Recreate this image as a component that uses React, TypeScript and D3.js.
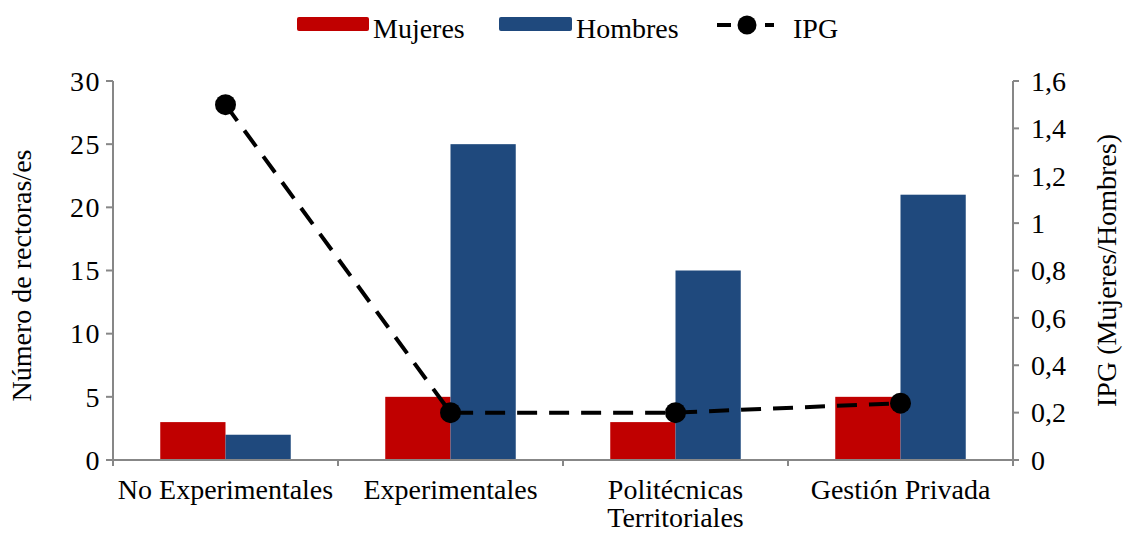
import React from 'react';
import * as d3 from 'd3';

const categories = ['No Experimentales', 'Experimentales', 'Politécnicas Territoriales', 'Gestión Privada'];
const categoryLines = [['No Experimentales'], ['Experimentales'], ['Politécnicas', 'Territoriales'], ['Gestión Privada']];
const mujeres = [3, 5, 3, 5];
const hombres = [2, 25, 15, 21];
const ipg = [1.5, 0.2, 0.2, 0.24];
const leftTicks = [0, 5, 10, 15, 20, 25, 30];
const rightTicks = [0, 0.2, 0.4, 0.6, 0.8, 1, 1.2, 1.4, 1.6];

const W = 1124;
const H = 533;
const FONT = '"Liberation Serif", serif';
const FS = 28;

const App = () => {
	const left = 113;
	const right = 1013;
	const top = 81;
	const bottom = 460;

	const x = d3.scaleBand().domain(categories).range([left, right]).paddingInner(0.42).paddingOuter(0.21);
	const step = (right - left) / categories.length;
	const xSeries = d3.scaleBand().domain(['m', 'h']).range([0, x.bandwidth()]);
	const yLeft = d3.scaleLinear().domain([0, 30]).range([bottom, top]);
	const yRight = d3.scaleLinear().domain([0, 1.6]).range([bottom, top]);

	const line = d3
		.line<number>()
		.x((d, i) => x(categories[i])! + x.bandwidth() / 2)
		.y(d => yRight(d));

	const fmt = (v: number) => (Math.round(v * 10) / 10).toString().replace('.', ',');
	const axisColor = '#878787';

	return (
		<svg width={W} height={H} style={{ display: 'block', position: 'absolute', left: 0, top: 0, fontFamily: FONT }}>
			<rect width={W} height={H} fill="#fff" />

			{/* bars */}
			{categories.map((c, i) => (
				<g key={c} transform={`translate(${x(c)},0)`}>
					<rect x={xSeries('m')} y={yLeft(mujeres[i])} width={xSeries.bandwidth()} height={bottom - yLeft(mujeres[i])} fill="#C00000" />
					<rect x={xSeries('h')} y={yLeft(hombres[i])} width={xSeries.bandwidth()} height={bottom - yLeft(hombres[i])} fill="#1F497D" />
				</g>
			))}

			{/* left axis */}
			<line x1={left} x2={left} y1={top} y2={bottom} stroke={axisColor} strokeWidth={2} />
			{leftTicks.map(t => (
				<g key={t}>
					<line x1={left - 7} x2={left} y1={yLeft(t)} y2={yLeft(t)} stroke={axisColor} strokeWidth={2} />
					<text x={left - 12} y={yLeft(t)} dy="0.35em" textAnchor="end" fontSize={FS} letterSpacing={1.5} fill="#000">{t}</text>
				</g>
			))}
			<text transform={`translate(31,${(top + bottom) / 2 + 5}) rotate(-90)`} textAnchor="middle" fontSize={FS} fill="#000">Número de rectoras/es</text>

			{/* right axis */}
			<line x1={right} x2={right} y1={top} y2={bottom} stroke={axisColor} strokeWidth={2} />
			{rightTicks.map(t => (
				<g key={t}>
					<line x1={right} x2={right + 6} y1={yRight(t)} y2={yRight(t)} stroke={axisColor} strokeWidth={2} />
					<text x={right + 18} y={yRight(t)} dy="0.35em" textAnchor="start" fontSize={FS} fill="#000">{fmt(t)}</text>
				</g>
			))}
			<text transform={`translate(1116,${(top + bottom) / 2}) rotate(-90)`} textAnchor="middle" fontSize={FS} fill="#000">IPG (Mujeres/Hombres)</text>

			{/* bottom axis */}
			<line x1={left} x2={right} y1={bottom} y2={bottom} stroke={axisColor} strokeWidth={2} />
			{d3.range(categories.length + 1).map(i => (
				<line key={i} x1={left + i * step} x2={left + i * step} y1={bottom} y2={bottom + 6} stroke={axisColor} strokeWidth={2} />
			))}
			{categories.map((c, i) => (
				<text key={c} x={x(c)! + x.bandwidth() / 2} y={499} textAnchor="middle" fontSize={FS} fill="#000">
					{categoryLines[i].map((l, j) => (
						<tspan key={j} x={x(c)! + x.bandwidth() / 2} dy={j === 0 ? 0 : 28}>{l}</tspan>
					))}
				</text>
			))}

			{/* IPG line */}
			<path d={line(ipg)!} fill="none" stroke="#000" strokeWidth={4} strokeDasharray="20,12" />
			{ipg.map((v, i) => (
				<circle key={i} cx={x(categories[i])! + x.bandwidth() / 2} cy={yRight(v)} r={10.5} fill="#000" />
			))}

			{/* legend */}
			<rect x={297} y={17} width={72} height={14} rx={2} fill="#C00000" />
			<text x={373} y={38} fontSize={FS} fill="#000">Mujeres</text>
			<rect x={499} y={17} width={73} height={14} rx={2} fill="#1F497D" />
			<text x={576} y={38} fontSize={FS} fill="#000">Hombres</text>
			<line x1={717} x2={774} y1={25} y2={25} stroke="#000" strokeWidth={4} strokeDasharray="14,10" />
			<circle cx={747} cy={25} r={9.5} fill="#000" />
			<text x={793} y={38} fontSize={FS} fill="#000">IPG</text>
		</svg>
	);
};

export default App;
